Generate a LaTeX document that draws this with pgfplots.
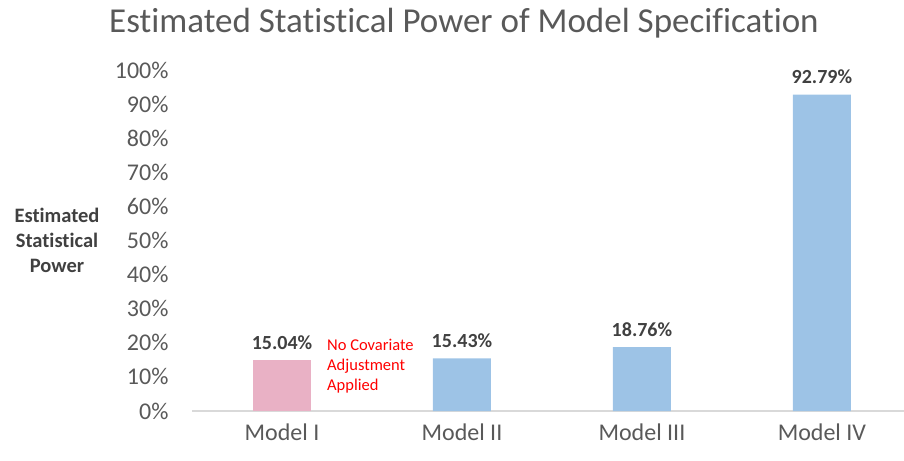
\documentclass[border=0pt]{standalone}
\usepackage{pgfplots}
\pgfplotsset{compat=1.18}
\usepackage{fontspec}
\setmainfont{Carlito}[Ligatures=NoCommon]
\definecolor{txtgray}{HTML}{595959}
\definecolor{lblgray}{HTML}{404040}
\definecolor{pinkbar}{HTML}{E9B1C5}
\definecolor{bluebar}{HTML}{9DC3E6}
\definecolor{axgray}{HTML}{D9D9D9}
\begin{document}
\begin{tikzpicture}
\useasboundingbox (0,0) rectangle (904bp,461bp);
\begin{axis}[
  at={(192bp,50bp)}, anchor=south west,
  scale only axis, width=712bp, height=341bp,
  xmin=-0.5, xmax=3.456, ymin=0, ymax=100,
  axis y line*=left, axis x line*=bottom,
  y axis line style={draw=none},
  x axis line style={axgray, line width=1.2bp, -},
  ytick={0,10,...,100},
  xtick={0,1,2,3},
  xticklabels={Model I, Model II, Model III, Model IV},
  xtick style={draw=none}, ytick style={draw=none},
  /pgf/number format/assume math mode=true,
  yticklabel={\pgfmathprintnumber{\tick}\%},
  yticklabel style={font=\fontsize{24bp}{26bp}\selectfont, text=txtgray, anchor=east, xshift=-20bp},
  xticklabel style={font=\fontsize{24bp}{26bp}\selectfont, text=txtgray, yshift=-5bp},
  ybar, bar width=58bp, bar shift=0pt,
  nodes near coords={\pgfmathprintnumber[fixed,fixed zerofill,precision=2]{\pgfplotspointmeta}\%},
  nodes near coords style={font=\bfseries\fontsize{20bp}{22bp}\selectfont, text=lblgray, yshift=7bp},
  clip=false,
]
\addplot[fill=pinkbar, draw=none] coordinates {(0,15.04)};
\addplot[fill=bluebar, draw=none] coordinates {(1,15.43) (2,18.76) (3,92.79)};
\node[anchor=north west, align=left, text=red, font=\fontsize{16.5bp}{20bp}\selectfont, inner sep=0pt] at (axis cs:0.25,21.2) {No Covariate\\Adjustment\\Applied};
\end{axis}
\node[font=\bfseries\fontsize{20.5bp}{25bp}\selectfont, text=lblgray, align=center] at (57bp,221bp) {Estimated\\Statistical\\Power};
\node[font=\fontsize{35bp}{40bp}\selectfont, text=txtgray] at (464bp,438bp) {Estimated Statistical Power of Model Specification};
\end{tikzpicture}
\end{document}
